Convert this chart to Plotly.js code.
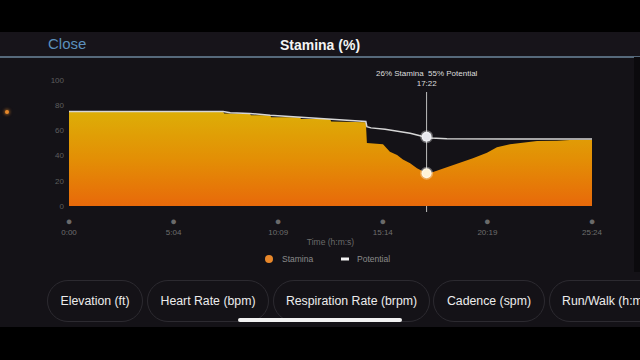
<!DOCTYPE html>
<html>
<head>
<meta charset="utf-8">
<script src="https://cdn.plot.ly/plotly-3.0.1.min.js"></script>
<style>
  html, body { margin:0; padding:0; width:640px; height:360px; overflow:hidden; background:#141217; font-family:"Liberation Sans", Arial, sans-serif; }
  #topbar { position:absolute; left:0; top:0; width:640px; height:32px; background:#000; }
  #header { position:absolute; left:0; top:32px; width:640px; height:24px; background:#17141a; }
  #hline { position:absolute; left:0; top:56px; width:640px; height:1.5px; background:#56697b; }
  #close { position:absolute; left:48px; top:35px; font-size:15px; color:#5b8fbc; line-height:18px; }
  #title { position:absolute; left:0; width:640px; top:36px; text-align:center; font-size:14px; font-weight:bold; color:#f4f4f4; line-height:18px; }
  #chart { position:absolute; left:0; top:0; width:640px; height:360px; }
  #bottombar { position:absolute; left:0; top:327px; width:640px; height:33px; background:#000; }
  .pill { position:absolute; top:280px; height:40px; border:1.5px solid #2c2a30; border-radius:22px; color:#ececec; font-size:12.3px; line-height:40px; text-align:center; white-space:nowrap; overflow:hidden; box-sizing:content-box; }
  #home { position:absolute; left:238px; top:317.5px; width:164px; height:4px; border-radius:2px; background:#f2f2f2; }
  #sidedot { position:absolute; left:5px; top:110px; width:4px; height:4px; border-radius:2px; background:#e8892b; box-shadow:0 0 3px 1px rgba(232,137,43,0.5); }
  #rightstrip { position:absolute; left:634px; top:57px; width:6px; height:215px; background:#0b0a0d; }
</style>
</head>
<body>
<div id="topbar"></div>
<div id="header"></div>
<div id="hline"></div>
<div id="close">Close</div>
<div id="title">Stamina (%)</div>
<div id="sidedot"></div>
<div id="chart"></div>
<div id="rightstrip"></div>
<div class="pill" style="left:47px;width:94px;">Elevation (ft)</div>
<div class="pill" style="left:147px;width:120px;">Heart Rate (bpm)</div>
<div class="pill" style="left:273px;width:155px;">Respiration Rate (brpm)</div>
<div class="pill" style="left:433px;width:110px;">Cadence (spm)</div>
<div class="pill" style="left:549px;width:150px;text-align:left;text-indent:12px;">Run/Walk (h:m:s)</div>
<div id="bottombar"></div>
<div id="home"></div>
<script>
// ---- data (time in seconds, values in %) ----
const staminaTime = [0, 449, 452, 527, 530, 586, 589, 673, 676, 761, 764, 865, 868, 915, 935, 956, 973, 994, 1014, 1032, 1042, 1061, 1101, 1139, 1177, 1218, 1247, 1285, 1323, 1364, 1422, 1460, 1524];
const staminaVals = [75, 75, 73.5, 73.5, 72, 72, 70.5, 70.5, 69, 69, 67, 66.5, 50, 49, 43, 40.5, 37, 34, 30, 27, 26, 27, 30.7, 34, 37.8, 42.3, 46.6, 49, 50.5, 51.6, 51.8, 52.4, 52.6];
const potentialTime = [0, 449, 470, 527, 586, 673, 761, 865, 868, 880, 921, 950, 994, 1026, 1042, 1055, 1101, 1524];
const potentialVals = [75, 75, 74, 73.5, 72, 70.5, 69, 67, 63, 62, 61, 59.8, 57.7, 55.5, 55, 54, 53.3, 53.2];
const xTickVals = [0, 304.8, 609.6, 914.4, 1219.2, 1524];
const xTickLabels = ['0:00', '5:04', '10:09', '15:14', '20:19', '25:24'];
const yTickVals = [0, 20, 40, 60, 80, 100];
const cursorTime = 1042;
const cursorLabel = '17:22';
const cursorStamina = 26;
const cursorPotential = 55;
const seriesNames = ['Stamina', 'Potential'];

// pixel helpers for decorations (plot area: x 69..592, y 80..206)
const L = 69, R = 592, T = 80, B = 206;
const px = x => (x - L) / (R - L);
const py = y => (B - y) / (B - T);

const traces = [
  {
    x: staminaTime, y: staminaVals, type: 'scatter', mode: 'lines',
    line: {width: 0, color: '#e58a05'}, fill: 'tozeroy',
    fillgradient: {type: 'vertical', start: 0, stop: 75,
      colorscale: [[0, '#e8690a'], [0.5, '#e38f05'], [1, '#ddae07']]},
    name: seriesNames[0], showlegend: false, hoverinfo: 'skip'
  },
  {
    x: potentialTime, y: potentialVals, type: 'scatter', mode: 'lines',
    line: {width: 1.5, color: '#d6d6d6'}, name: seriesNames[1], showlegend: false, hoverinfo: 'skip'
  },
  {
    x: [cursorTime, cursorTime], y: [cursorStamina, cursorPotential], type: 'scatter', mode: 'markers',
    marker: {size: 10, color: ['#fff3d8', '#e8e8ee'], line: {color: 'rgba(255,255,255,0.35)', width: 3}},
    showlegend: false, hoverinfo: 'skip'
  }
];

const dotTick = '<span style="font-size:11px;color:#6a6a6a">●</span><br>';
const layout = {
  width: 640, height: 360,
  margin: {l: L, r: 640 - R, t: T, b: 360 - B, pad: 0},
  paper_bgcolor: 'rgba(0,0,0,0)', plot_bgcolor: 'rgba(0,0,0,0)',
  font: {family: 'Liberation Sans, Arial, sans-serif', color: '#6e6e6e', size: 8},
  showlegend: false,
  xaxis: {
    range: [0, 1524], showgrid: false, zeroline: false, showline: false, ticks: '',
    tickvals: xTickVals, ticktext: xTickLabels.map(t => dotTick + t),
    tickfont: {size: 8, color: '#6e6e6e'}, ticklabelstandoff: 10,
    title: {text: 'Time (h:m:s)', font: {size: 8.5, color: '#6a6a6a'}, standoff: 2},
    fixedrange: true
  },
  yaxis: {
    range: [0, 100], showgrid: false, zeroline: false, showline: false, ticks: '',
    tickvals: yTickVals, tickfont: {size: 8, color: '#5e5e5e'}, ticklabelstandoff: 4,
    fixedrange: true
  },
  shapes: [
    {type: 'line', xref: 'x', yref: 'paper', x0: cursorTime, x1: cursorTime, y0: py(212), y1: py(92),
     line: {color: '#bdbdbd', width: 1}, layer: 'below'},
    {type: 'circle', xref: 'paper', yref: 'paper', x0: px(265), x1: px(273), y0: py(263), y1: py(255),
     fillcolor: '#e8872a', line: {width: 0}},
    {type: 'rect', xref: 'paper', yref: 'paper', x0: px(341), x1: px(349), y0: py(260.5), y1: py(257.5),
     fillcolor: '#f2f2f2', line: {width: 0}}
  ],
  annotations: [
    {xref: 'x', yref: 'paper', x: cursorTime, y: py(90), yanchor: 'bottom', xanchor: 'center', showarrow: false,
     text: cursorStamina + '% Stamina\u00a0 ' + cursorPotential + '% Potential<br>' + cursorLabel,
     font: {size: 8, color: '#dedede'}, align: 'center'},
    {xref: 'paper', yref: 'paper', x: px(280), y: py(259), xanchor: 'left', yanchor: 'middle', showarrow: false,
     text: seriesNames[0], font: {size: 8.5, color: '#8a8a8a'}},
    {xref: 'paper', yref: 'paper', x: px(355), y: py(259), xanchor: 'left', yanchor: 'middle', showarrow: false,
     text: seriesNames[1], font: {size: 8.5, color: '#8a8a8a'}}
  ]
};

Plotly.newPlot('chart', traces, layout, {displayModeBar: false, staticPlot: true});
</script>
</body>
</html>
